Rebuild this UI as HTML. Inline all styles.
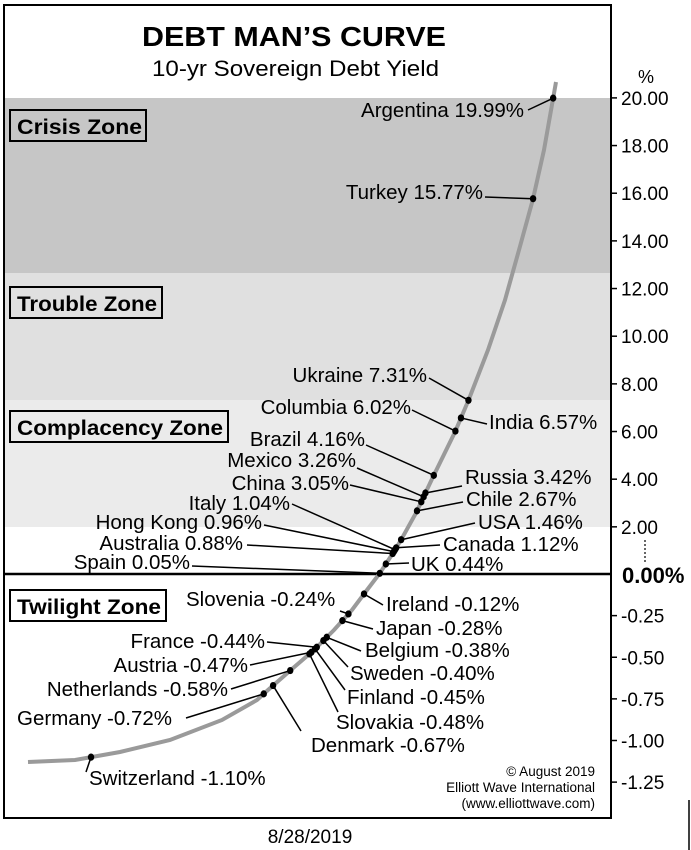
<!DOCTYPE html>
<html><head><meta charset="utf-8">
<style>
html,body{margin:0;padding:0;background:#fff;}
svg{display:block;font-family:"Liberation Sans",Arial,sans-serif;}
</style></head>
<body>
<svg id="chart" width="691" height="850" viewBox="0 0 691 850" xmlns="http://www.w3.org/2000/svg">
  <rect x="0" y="0" width="691" height="850" fill="#fff"/>
  <rect x="4" y="98" width="607" height="175" fill="#c6c6c6"/>
  <rect x="4" y="273" width="607" height="127" fill="#e0e0e0"/>
  <rect x="4" y="400" width="607" height="127" fill="#ebebeb"/>
  <rect x="4" y="5" width="607" height="813" fill="none" stroke="#000" stroke-width="2"/>
  <line x1="4" y1="574" x2="611" y2="574" stroke="#000" stroke-width="2.5"/>

  <text x="142" y="46" textLength="304" lengthAdjust="spacingAndGlyphs" font-size="28" font-weight="bold">DEBT MAN’S CURVE</text>
  <text x="152" y="76" textLength="287" lengthAdjust="spacingAndGlyphs" font-size="22">10-yr Sovereign Debt Yield</text>

  <g font-size="21" font-weight="bold">
    <rect x="10" y="110" width="136" height="31" fill="none" stroke="#000" stroke-width="2"/>
    <text x="17" y="134" textLength="125" lengthAdjust="spacingAndGlyphs">Crisis Zone</text>
    <rect x="10" y="287" width="152" height="31" fill="none" stroke="#000" stroke-width="2"/>
    <text x="17" y="311" textLength="140" lengthAdjust="spacingAndGlyphs">Trouble Zone</text>
    <rect x="10" y="411" width="218" height="31" fill="none" stroke="#000" stroke-width="2"/>
    <text x="17" y="435" textLength="206" lengthAdjust="spacingAndGlyphs">Complacency Zone</text>
    <rect x="10" y="590" width="156" height="31" fill="none" stroke="#000" stroke-width="2"/>
    <text x="17" y="614" textLength="144" lengthAdjust="spacingAndGlyphs">Twilight Zone</text>
  </g>

  <text x="646" y="83" text-anchor="middle" font-size="18">%</text>
  <line x1="645" y1="540" x2="645" y2="563" stroke="#000" stroke-width="1.2" stroke-dasharray="2,2"/>
  <text x="622" y="583" font-size="22" font-weight="bold">0.00%</text>
  <g id="axis"></g>
  <path id="curve" fill="none" stroke="#9a9a9a" stroke-width="4"/>
  <g id="leaders"></g>
  <g id="dots"></g>
  <g id="labels" font-size="20.5"></g>

  <g font-size="13.5" text-anchor="end">
    <text x="595" y="776">© August 2019</text>
    <text x="595" y="792">Elliott Wave International</text>
    <text x="595" y="808">(www.elliottwave.com)</text>
  </g>
  <text x="310" y="843" text-anchor="middle" font-size="19">8/28/2019</text>
  <line x1="689" y1="800" x2="689" y2="850" stroke="#000" stroke-width="1.5"/>
</svg>
<script>
// ---- data ----
const countries = ["Argentina","Turkey","Ukraine","India","Columbia","Brazil","Russia","Mexico","China","Chile","USA","Canada","Italy","Hong Kong","Australia","UK","Spain","Ireland","Slovenia","Japan","Belgium","Sweden","France","Finland","Austria","Slovakia","Netherlands","Denmark","Germany","Switzerland"];
const yields = [19.99,15.77,7.31,6.57,6.02,4.16,3.42,3.26,3.05,2.67,1.46,1.12,1.04,0.96,0.88,0.44,0.05,-0.12,-0.24,-0.28,-0.38,-0.40,-0.44,-0.45,-0.47,-0.48,-0.58,-0.67,-0.72,-1.10];
const posTicks = [20,18,16,14,12,10,8,6,4,2];
const posTickLabels = ["20.00","18.00","16.00","14.00","12.00","10.00","8.00","6.00","4.00","2.00"];
const negTicks = [-0.25,-0.5,-0.75,-1.0,-1.25];
const negTickLabels = ["-0.25","-0.50","-0.75","-1.00","-1.25"];

// ---- axis functions ----
function yScale(v){ return v >= 0 ? 574.5 - v*23.83 : 574 - v*166.5; }
// curve shape (pixel geometry of the drawn curve: [y, x])
const curveShape = [[762,28],[760,75],[752,120],[740,170],[720,222],[700,257],[690,268],[669,292],[650,314],[630,334],[610,352],[590,367],[573,380],[553,393],[540,401],[513,416],[479,432],[432,455],[399,469],[350,488],[300,505],[250,519],[199,533],[150,544],[99,553],[82,556]];
function curveX(py){
  for(let i=0;i<curveShape.length-1;i++){
    const a=curveShape[i], b=curveShape[i+1];
    if(py<=a[0] && py>=b[0]){ const t=(a[0]-py)/(a[0]-b[0]); return a[1]+t*(b[1]-a[1]); }
  }
  return py>curveShape[0][0]?curveShape[0][1]:curveShape[curveShape.length-1][1];
}
// label layout: [anchor, textX, textY, leaderX, leaderY]
const labelLayout = {
 "Argentina":["end",524,117,528,110],"Turkey":["end",483,199,485,197],"Ukraine":["end",427,382,429,378],
 "India":["start",489,429,487,424],"Columbia":["end",411,414,412,410],"Brazil":["end",365,446,366,445],
 "Russia":["start",465,484,462,486],"Mexico":["end",356,467,357,468],"China":["end",349,490,350,485],
 "Chile":["start",466,506,463,502],"USA":["start",478,529,475,523],"Canada":["start",443,551,440,545],
 "Italy":["end",290,510,292,504],"Hong Kong":["end",262,529,264,525],"Australia":["end",243,550,247,545],
 "UK":["start",411,571,409,563],"Spain":["end",190,569,192,566],"Ireland":["start",386,611,383,605],
 "Slovenia":["start",186,606,340,611],"Japan":["start",376,635,373,629],"Belgium":["start",365,657,361,651],
 "Sweden":["start",350,680,348,667],"France":["end",265,648,267,642],"Finland":["start",347,704,345,690],
 "Austria":["end",248,672,250,665],"Slovakia":["start",336,729,338,712],"Netherlands":["end",228,696,231,689],
 "Denmark":["start",311,752,301,731],"Germany":["end",172,725,186,718],"Switzerland":["start",89,785,86,772]
};
const NS="http://www.w3.org/2000/svg";
const axis=document.getElementById('axis');
function tick(v,lab){
  const y=yScale(v);
  const l=document.createElementNS(NS,'line');
  l.setAttribute('x1',611);l.setAttribute('x2',617);l.setAttribute('y1',y);l.setAttribute('y2',y);l.setAttribute('stroke','#000');l.setAttribute('stroke-width','1.5');
  
  
  axis.appendChild(l);
  const t=document.createElementNS(NS,'text');
  t.setAttribute('x',621);t.setAttribute('y',y+7);t.setAttribute('font-size','19');t.textContent=lab;
  
  
  axis.appendChild(t);
}
posTicks.forEach((v,i)=>tick(v,posTickLabels[i]));
negTicks.forEach((v,i)=>tick(v,negTickLabels[i]));

// curve
let d='';
curveShape.forEach((p,i)=>{ d+=(i?'L':'M')+p[1]+' '+p[0]+' '; });
document.getElementById('curve').setAttribute('d',d);

const dots=document.getElementById('dots'), leaders=document.getElementById('leaders'), labels=document.getElementById('labels');
countries.forEach((c,i)=>{
  const v=yields[i]; const py=yScale(v); const px=curveX(py);
  const e=document.createElementNS(NS,'ellipse');
  e.setAttribute('cx',px);e.setAttribute('cy',py);e.setAttribute('rx',3.2);e.setAttribute('ry',3.6);e.setAttribute('fill','#000');
  
  
  dots.appendChild(e);
  const L=labelLayout[c];
  const ln=document.createElementNS(NS,'line');
  ln.setAttribute('x1',L[3]);ln.setAttribute('y1',L[4]);ln.setAttribute('x2',px);ln.setAttribute('y2',py);ln.setAttribute('stroke','#000');ln.setAttribute('stroke-width','1.5');
  
  
  leaders.appendChild(ln);
  const t=document.createElementNS(NS,'text');
  t.setAttribute('x',L[1]);t.setAttribute('y',L[2]);t.setAttribute('text-anchor',L[0]);
  t.textContent=c+' '+v.toFixed(2)+'%';
  
  
  labels.appendChild(t);
});
</script>
</body></html>
